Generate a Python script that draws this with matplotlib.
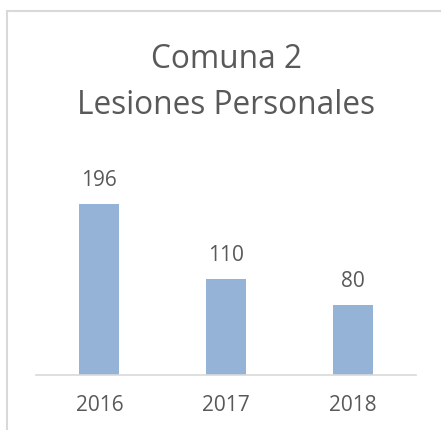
import matplotlib
matplotlib.use("Agg")
import matplotlib.pyplot as plt
from matplotlib.patches import Rectangle

years = ["2016", "2017", "2018"]
values = [196, 110, 80]
title_lines = ["Comuna 2", "Lesiones Personales"]

BAR = "#95B3D7"
TXT = "#595959"
GRID = "#D9D9D9"

plt.rcParams['font.family'] = ['Open Sans', 'DejaVu Sans']

W, H = 441, 431
fig = plt.figure(figsize=(W / 100, H / 100), dpi=100)
fig.patch.set_facecolor("white")

# outer chart border (top and left visible)
fig.patches.append(Rectangle((7 / W, -0.1), 1.2, (H - 12) / H + 0.1,
                             transform=fig.transFigure, fill=False,
                             edgecolor=GRID, linewidth=1.5))

ax = fig.add_axes([36 / W, (H - 375.7) / H, 380 / W, 218.1 / H])
x = list(range(len(years)))
bars = ax.bar(x, values, width=0.316, color=BAR)
ax.set_xlim(-0.5, 2.5)
ax.set_ylim(0, 250)
ax.set_xticks(x)
ax.set_xticklabels(years, fontsize=15, color=TXT)
ax.tick_params(axis='x', length=0, pad=14)
ax.set_yticks([])
for s in ["top", "right", "left"]:
    ax.spines[s].set_visible(False)
ax.spines["bottom"].set_color(GRID)
ax.spines["bottom"].set_linewidth(1.2)
ax.patch.set_visible(False)

for xi, v in zip(x, values):
    ax.annotate(str(v), (xi, v), xytext=(0, 13.5), textcoords="offset points",
                ha="center", va="baseline", fontsize=15, color=TXT)

fig.text(226 / W, 1 - 68 / H, title_lines[0], ha="center", va="baseline",
         fontsize=22.8, color=TXT)
fig.text(226 / W, 1 - 114 / H, title_lines[1], ha="center", va="baseline",
         fontsize=22.8, color=TXT)

fig.savefig("out.png", dpi=100, facecolor="white")
